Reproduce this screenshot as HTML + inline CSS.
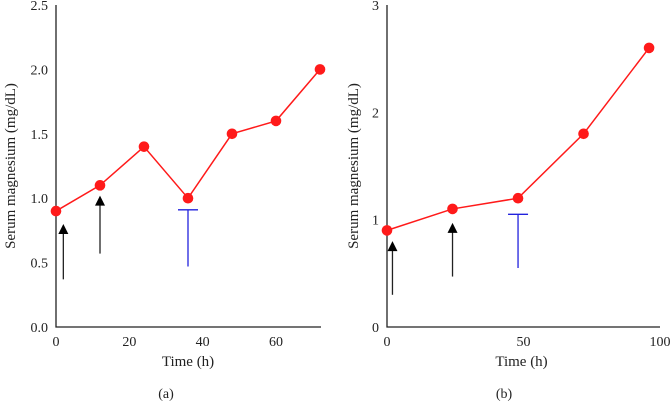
<!DOCTYPE html>
<html><head><meta charset="utf-8"><style>
body{margin:0;background:#fff;}
svg{display:block;font-family:"Liberation Serif",serif;}
</style></head><body>
<svg id="c" width="671" height="403"></svg>
<script>
const timesA=[0,12,24,36,48,60,72];
const valuesA=[0.9,1.1,1.4,1.0,1.5,1.6,2.0];
const yTicksA=["0.0","0.5","1.0","1.5","2.0","2.5"];
const xTicksA=[0,20,40,60];
const timesB=[0,24,48,72,96];
const valuesB=[0.9,1.1,1.2,1.8,2.6];
const yTicksB=["0","1","2","3"];
const xTicksB=[0,50,100];
const arrowsA=[{t:2,from:0.37,to:0.8},{t:12,from:0.57,to:1.02}];
const blockA={t:36,from:0.47,to:0.91};
const arrowsB=[{t:2,from:0.3,to:0.8},{t:24,from:0.47,to:0.97}];
const blockB={t:48,from:0.55,to:1.05};

const NS="http://www.w3.org/2000/svg";
const svg=document.getElementById('c');
function el(tag,attrs,parent){const e=document.createElementNS(NS,tag);for(const k in attrs)e.setAttribute(k,attrs[k]);(parent||svg).appendChild(e);return e;}

function panel(cfg){
  const g=el('g',{});
  
  
  const sx=v=>cfg.x0+(v-cfg.xmin)/(cfg.xmax-cfg.xmin)*(cfg.x1-cfg.x0);
  const sy=v=>cfg.y0-(v/cfg.ymax)*(cfg.y0-cfg.y1);
  const ax=el('path',{d:`M${cfg.x0},${cfg.y1}V${cfg.y0}H${cfg.xend}`,stroke:'#222',fill:'none','stroke-width':1.3},g);
  
  
  cfg.yTicks.forEach(lbl=>{
    const t=el('text',{x:cfg.x0-8,y:sy(parseFloat(lbl))+5,'text-anchor':'end','font-size':14,fill:'#222'},g);
    t.textContent=lbl;
    
    
  });
  cfg.xTicks.forEach(v=>{
    const t=el('text',{x:sx(v),y:346,'text-anchor':'middle','font-size':14,fill:'#222'},g);
    t.textContent=v;
    
    
  });
  const xt=el('text',{x:(cfg.x0+cfg.x1)/2+(cfg.xtOff||0),y:366,'text-anchor':'middle','font-size':15,fill:'#222'},g);
  xt.textContent='Time (h)';
  
  
  const yc=(cfg.y0+cfg.y1)/2;
  const yt=el('text',{x:0,y:0,transform:`translate(${cfg.ytX},${yc}) rotate(-90)`,'text-anchor':'middle','font-size':15,fill:'#222'},g);
  yt.textContent='Serum magnesium (mg/dL)';
  
  
  const cap=el('text',{x:cfg.capX,y:398,'text-anchor':'middle','font-size':14,fill:'#222'},g);
  cap.textContent=cfg.cap;
  
  
  const line=el('polyline',{points:cfg.times.map((t,i)=>sx(t)+','+sy(cfg.values[i])).join(' '),fill:'none',stroke:'#ff1a1a','stroke-width':1.5},g);
  
  
  cfg.times.forEach((t,i)=>{
    const c=el('circle',{cx:sx(t),cy:sy(cfg.values[i]),r:5.3,fill:'#ff1a1a'},g);
    
    
  });
  cfg.arrows.forEach(a=>{
    const x=sx(a.t),yb=sy(a.from),yt2=sy(a.to);
    const l=el('line',{x1:x,y1:yb,x2:x,y2:yt2+8,stroke:'#222','stroke-width':1.3},g);
    
    
    const h=el('polygon',{points:`${x},${yt2} ${x-5},${yt2+10} ${x+5},${yt2+10}`,fill:'#000'},g);
    
    
  });
  const b=cfg.block,bx=sx(b.t);
  const bl=el('path',{d:`M${bx-10},${sy(b.to)}H${bx+10}M${bx},${sy(b.to)}V${sy(b.from)}`,stroke:'#2222dd',fill:'none','stroke-width':1.3},g);
  
  
}
panel({name:'panel-a',x0:56,x1:320,xend:321,xmin:0,xmax:72,y0:327,y1:5,ymax:2.5,yTicks:yTicksA,xTicks:xTicksA,times:timesA,values:valuesA,arrows:arrowsA,block:blockA,ytX:15,capX:166,cap:'(a)',xtOff:0});
panel({name:'panel-b',x0:387,x1:660,xend:660,xmin:0,xmax:100,y0:327,y1:5,ymax:3,yTicks:yTicksB,xTicks:xTicksB,times:timesB,values:valuesB,arrows:arrowsB,block:blockB,ytX:358,capX:504,cap:'(b)',xtOff:-2});
</script>
</body></html>
